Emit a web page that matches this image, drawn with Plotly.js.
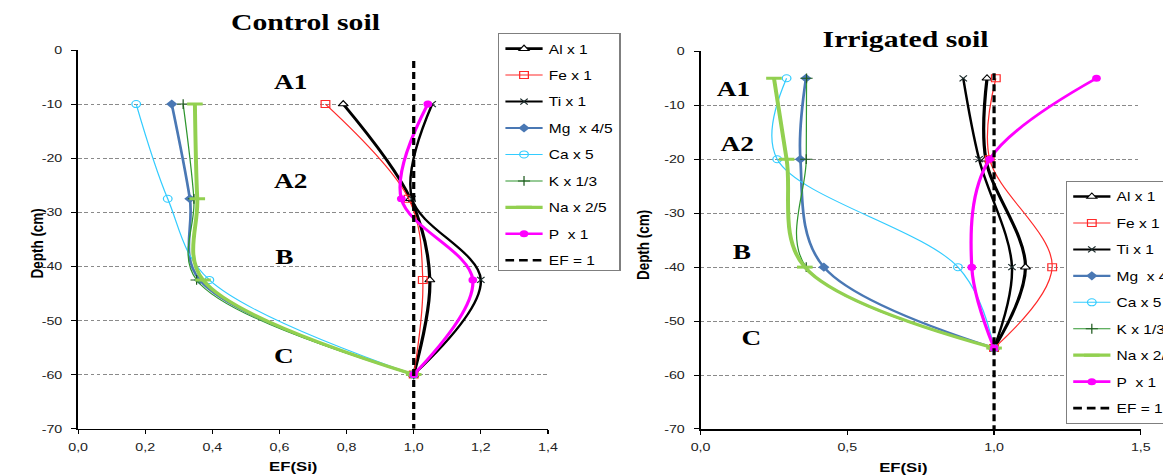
<!DOCTYPE html>
<html>
<head>
<meta charset="utf-8">
<script src="https://cdn.plot.ly/plotly-3.0.1.min.js"></script>
<style>
html,body{margin:0;padding:0;overflow:hidden;background:#fff;width:1163px;height:476px;}
#chart{width:980px;height:476px;transform:scaleX(1.24);transform-origin:0 0;}
</style>
</head>
<body>
<div id="chart"></div>
<script>
// ---------- DATA ----------
const seriesNames = ['Al x 1','Fe x 1','Ti x 1','Mg\u00a0 x 4/5','Ca x 5','K x 1/3','Na x 2/5','P\u00a0 x 1'];
const efName = 'EF = 1';

// Control soil
const depthControl = [-10, -27.5, -42.5, -60];
const alControl = [0.79, 0.99, 1.048, 1.0];
const feControl = [0.737, 0.985, 1.027, 1.0];
const tiControl = [1.055, 0.995, 1.20, 1.0];
const mgControl = [0.279, 0.333, 0.362, 1.0];
const caControl = [0.173, 0.267, 0.391, 1.0];
const kControl  = [0.313, 0.345, 0.353, 1.0];
const naControl = [0.348, 0.355, 0.372, 1.0];
const pControl  = [1.042, 0.963, 1.176, 1.0];

// Irrigated soil
const depthIrrigated = [-5, -20, -40, -55];
const alIrrigated = [0.976, 0.972, 1.107, 1.0];
const feIrrigated = [1.006, 0.985, 1.198, 1.0];
const tiIrrigated = [0.895, 0.949, 1.061, 1.0];
const mgIrrigated = [0.359, 0.34, 0.42, 1.0];
const caIrrigated = [0.293, 0.261, 0.877, 1.0];
const kIrrigated  = [0.361, 0.36, 0.36, 1.0];
const naIrrigated = [0.25, 0.293, 0.355, 1.0];
const pIrrigated  = [1.349, 0.985, 0.924, 1.0];

const efX = [1, 1];
const efDepth = [0, -70];

const yTickVals = [0, -10, -20, -30, -40, -50, -60, -70];
const yTickText = ['0', '-10', '-20', '-30', '-40', '-50', '-60', '-70'];

const horizonLabels = ['A1', 'A2', 'B', 'C'];

// ---------- STYLES ----------
const styles = [
  {line:{color:'#000000', width:2.6}, marker:{symbol:'triangle-up', size:7, color:'#ffffff', line:{color:'#000000', width:1}}},
  {line:{color:'#ff2a2a', width:1}, marker:{symbol:'square-open', size:7, color:'#ff2a2a', line:{color:'#ff2a2a', width:1}}},
  {line:{color:'#000000', width:2}, marker:{symbol:'x-thin', size:6, color:'#000000', line:{color:'#1a2a2a', width:1}}},
  {line:{color:'#4a78b4', width:2.2}, marker:{symbol:'diamond', size:7, color:'#4a78b4'}},
  {line:{color:'#33ccff', width:1}, marker:{symbol:'circle-open', size:7, color:'#33ccff', line:{color:'#33ccff', width:1}}},
  {line:{color:'#2e962e', width:1}, marker:{symbol:'cross-thin', size:7, color:'#1f5a1f', line:{color:'#1f5a1f', width:1}}},
  {line:{color:'#92d050', width:3.2}, marker:{symbol:'line-ew', size:9, color:'#92d050', line:{color:'#92d050', width:3}}},
  {line:{color:'#ff00ff', width:2.6}, marker:{symbol:'circle', size:7, color:'#ff00ff'}}
];

const controlX = [alControl, feControl, tiControl, mgControl, caControl, kControl, naControl, pControl];
const irrigatedX = [alIrrigated, feIrrigated, tiIrrigated, mgIrrigated, caIrrigated, kIrrigated, naIrrigated, pIrrigated];

const traces = [];
function addSet(xs, depth, xa, ya, leg, prefix) {
  xs.forEach((vals, i) => {
    traces.push({
      type:'scatter', mode:'lines+markers', x: vals, y: depth,
      name: seriesNames[i], xaxis: xa, yaxis: ya, legend: leg, legendgroup: prefix + i,
      line: Object.assign({shape:'spline', smoothing:1}, styles[i].line),
      marker: styles[i].marker
    });
  });
  traces.push({
    type:'scatter', mode:'lines', x: efX, y: efDepth, name: efName,
    xaxis: xa, yaxis: ya, legend: leg, legendgroup: prefix + 'ef',
    line:{color:'#000000', width:2.6, dash:'7px,4px'}
  });
}
addSet(controlX, depthControl, 'x', 'y', 'legend', 'c');
addSet(irrigatedX, depthIrrigated, 'x2', 'y2', 'legend2', 'r');

// ---------- LAYOUT (screen px -> paper) ----------
const S = 1.24, L = 62.9, PW = 857.3, TOP = 50, BOT = 429.3, PH = BOT - TOP;
const px = xs => (xs / S - L) / PW;
const py = ys => (BOT - ys) / PH;

const sans = 'Liberation Sans, Arial, sans-serif';
const serif = 'Liberation Serif, Times New Roman, serif';

function xAxis(domain, range, dtick, anchor) {
  return {domain, range, dtick, tick0:0, tickformat:'.1f', anchor,
    showline:true, linecolor:'#000', linewidth:1.5, ticks:'outside', ticklen:4, tickcolor:'#000',
    showgrid:false, zeroline:false, ticklabelstandoff:3,
    tickfont:{family:sans, size:11.5, color:'#222'}};
}
function yAxis(domain, anchor) {
  return {domain, range:[-70, 0], anchor, tickmode:'array', tickvals:yTickVals, ticktext:yTickText,
    showline:true, linecolor:'#000', linewidth:1.5, ticks:'outside', ticklen:4, tickcolor:'#000',
    showgrid:true, gridcolor:'#8a8a8a', gridwidth:1, griddash:'3px,2px', zeroline:false,
    ticklabelstandoff:5, tickfont:{family:sans, size:11.5, color:'#222'}};
}

function lbl(text, xs, ys, size, font, extra) {
  return Object.assign({text, x:px(xs), y:py(ys), xref:'paper', yref:'paper', showarrow:false,
    xanchor:'center', yanchor:'middle',
    font:{family:font, size, color:'#000', weight:'bold'}}, extra || {});
}

const annotations = [
  lbl('Control soil', 305, 22, 24, serif, {bgcolor:'#fff', width:171, height:30}),
  lbl('Irrigated soil', 906, 39, 24, serif, {bgcolor:'#fff', width:171, height:30}),
  lbl(horizonLabels[0], 291, 82, 22, serif),
  lbl(horizonLabels[1], 291, 181, 22, serif),
  lbl(horizonLabels[2], 285, 257, 22, serif),
  lbl(horizonLabels[3], 284, 356, 22, serif),
  lbl(horizonLabels[0], 733, 89, 22, serif),
  lbl(horizonLabels[1], 737, 144, 22, serif),
  lbl(horizonLabels[2], 742, 252, 22, serif),
  lbl(horizonLabels[3], 751, 338, 22, serif),
  lbl('Depth (cm)', 38, 243, 13.5, sans, {textangle:-90}),
  lbl('Depth (cm)', 644, 245, 13.5, sans, {textangle:-90}),
  lbl('EF(Si)', 293, 467, 13.5, sans),
  lbl('EF(Si)', 903, 468, 13.5, sans)
];

// white title boxes hiding the top gridline and the top of the EF = 1 lines
const shapes = [
  {type:'rect', xref:'paper', yref:'paper', layer:'above', x0:px(210), x1:px(421), y0:py(57), y1:py(0), fillcolor:'#fff', line:{width:0}},
  {type:'rect', xref:'paper', yref:'paper', layer:'above', x0:px(803), x1:px(1015), y0:py(73), y1:py(0), fillcolor:'#fff', line:{width:0}}
];

const legendBase = {xanchor:'left', yanchor:'top', bgcolor:'#fff', bordercolor:'#7f7f7f', borderwidth:1,
  font:{family:sans, size:12.5, color:'#000'}, tracegroupgap:7.2, traceorder:'grouped'};

const layout = {
  width:980, height:476,
  margin:{l:L, r:980 - L - PW, t:TOP, b:476 - BOT, autoexpand:false},
  paper_bgcolor:'#fff', plot_bgcolor:'#fff',
  separators:', ',
  showlegend:true,
  xaxis: xAxis([0, px(548)], [0, 1.4], 0.2, 'y'),
  yaxis: yAxis([py(429), 1], 'x'),
  xaxis2: xAxis([px(700.7), 1], [0, 1.5], 0.5, 'y2'),
  yaxis2: yAxis([0, py(51.3)], 'x2'),
  legend: Object.assign({x:px(498), y:py(33)}, legendBase),
  legend2: Object.assign({x:px(1066), y:py(181)}, legendBase),
  shapes,
  annotations
};

Plotly.newPlot('chart', traces, layout, {displayModeBar:false, staticPlot:true});
</script>
</body>
</html>
